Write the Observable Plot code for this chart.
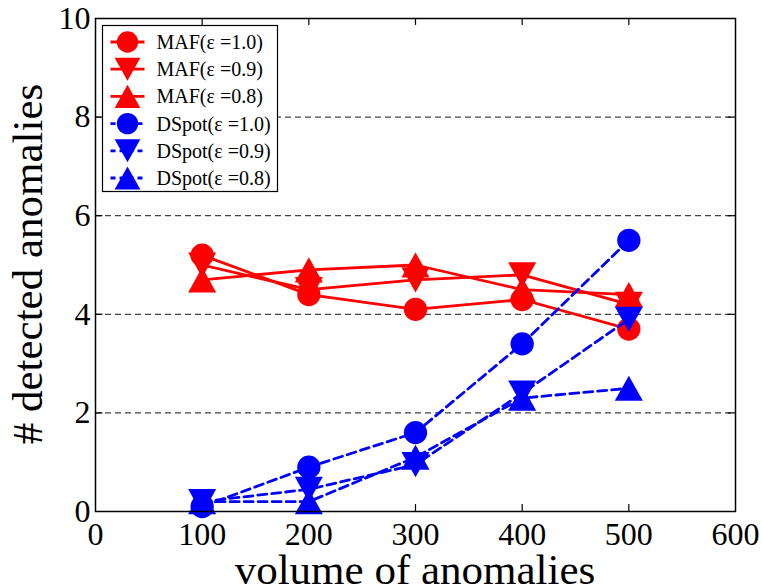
<!DOCTYPE html>
<html>
<head>
<meta charset="utf-8">
<script src="https://cdn.jsdelivr.net/npm/d3@7"></script>
<script src="https://cdn.jsdelivr.net/npm/@observablehq/plot@0.6"></script>
<style>
  html, body { margin: 0; padding: 0; background: #fff; }
  #chart { width: 762px; height: 586px; overflow: hidden; }
  #chart svg text { font-family: "Liberation Serif", "DejaVu Serif", serif; }
</style>
</head>
<body>
<div id="chart"></div>
<script>
// ---- data ----
const volumes = [100, 200, 300, 400, 500];
const mafE10 = [5.2, 4.4, 4.1, 4.3, 3.7];
const mafE09 = [5.0, 4.5, 4.7, 4.8, 4.2];
const mafE08 = [4.7, 4.9, 5.0, 4.5, 4.4];
const dspotE10 = [0.1, 0.9, 1.6, 3.4, 5.5];
const dspotE09 = [0.2, 0.45, 0.95, 2.4, 3.9];
const dspotE08 = [0.2, 0.2, 1.1, 2.3, 2.5];
const seriesNames = ["MAF(ε =1.0)", "MAF(ε =0.9)", "MAF(ε =0.8)", "DSpot(ε =1.0)", "DSpot(ε =0.9)", "DSpot(ε =0.8)"];
const xTicks = [0, 100, 200, 300, 400, 500, 600];
const yTicks = [0, 2, 4, 6, 8, 10];
const gridLevels = [2, 4, 6, 8];
const xLabel = "volume of anomalies";
const yLabel = "# detected anomalies";

const SERIF = "'Liberation Serif', 'DejaVu Serif', serif";

// ---- symbols ----
const upTri = {
  draw(ctx, size) {
    const r = Math.sqrt(size / Math.PI);
    const w = 1.17 * r, h = 1.05 * r;
    ctx.moveTo(0, -h); ctx.lineTo(w, h); ctx.lineTo(-w, h); ctx.closePath();
  }
};
const downTri = {
  draw(ctx, size) {
    const r = Math.sqrt(size / Math.PI);
    const w = 1.17 * r, h = 1.05 * r;
    ctx.moveTo(0, h); ctx.lineTo(w, -h); ctx.lineTo(-w, -h); ctx.closePath();
  }
};
const circleSym = {
  draw(ctx, size) {
    const r = Math.sqrt(size / Math.PI) * 0.97;
    ctx.moveTo(r, 0); ctx.arc(0, 0, r, 0, 2 * Math.PI);
  }
};

const seriesValues = [mafE10, mafE09, mafE08, dspotE10, dspotE09, dspotE08];
const seriesColor = ["#ff0000", "#ff0000", "#ff0000", "#0000ff", "#0000ff", "#0000ff"];
const seriesSymbol = [circleSym, downTri, upTri, circleSym, downTri, upTri];
const seriesDash = [null, null, null, "9,5", "9,5", "9,5"];

const R = 12;
const marks = [];
// grid
marks.push(Plot.ruleY(gridLevels, {stroke: "#444", strokeWidth: 1.2, strokeDasharray: "6,4"}));
// ticks (inward, all four sides)
marks.push(Plot.ruleX(xTicks.slice(1, -1), {y1: 0, y2: 0.14, stroke: "black", strokeWidth: 1.2}));
marks.push(Plot.ruleX(xTicks.slice(1, -1), {y1: 9.86, y2: 10, stroke: "black", strokeWidth: 1.2}));
marks.push(Plot.ruleY(yTicks.slice(1, -1), {x1: 0, x2: 7, stroke: "black", strokeWidth: 1.2}));
marks.push(Plot.ruleY(yTicks.slice(1, -1), {x1: 593, x2: 600, stroke: "black", strokeWidth: 1.2}));

seriesValues.forEach((vals, i) => {
  const data = volumes.map((v, j) => ({x: v, y: vals[j]}));
  marks.push(Plot.line(data, {
    x: "x", y: "y", stroke: seriesColor[i], strokeWidth: 2.8,
    strokeDasharray: seriesDash[i] || undefined, strokeLinejoin: "round"
  }));
  marks.push(Plot.dot(data, {
    x: "x", y: "y", symbol: seriesSymbol[i], r: R, fill: seriesColor[i], stroke: "none"
  }));
});

marks.push(Plot.frame({stroke: "black", strokeWidth: 1.5}));
marks.push(Plot.axisX(xTicks, {tickSize: 0, tickPadding: 11, fontSize: 32, label: null, fontFamily: SERIF}));
marks.push(Plot.axisY(yTicks, {tickSize: 0, tickPadding: 5, fontSize: 32, label: null, fontFamily: SERIF}));

const plot = Plot.plot({
  width: 762,
  height: 586,
  marginLeft: 95,
  marginRight: 27,
  marginTop: 18,
  marginBottom: 75,
  x: {domain: [0, 600]},
  y: {domain: [0, 10]},
  style: {fontFamily: SERIF, fontSize: "32px", color: "black", background: "white"},
  marks
});

const svg = d3.select(plot);
svg.style("overflow", "hidden").attr("font-family", SERIF);

// axis labels
svg.append("text")
  .attr("x", 415).attr("y", 584)
  .attr("text-anchor", "middle")
  .attr("font-size", 43)
  .attr("fill", "black")
  .text(xLabel);
svg.append("text")
  .attr("transform", "translate(42,264) rotate(-90)")
  .attr("text-anchor", "middle")
  .attr("font-size", 43)
  .attr("fill", "black")
  .text(yLabel);

// legend
const lg = svg.append("g").attr("transform", "translate(102.5,25.5)");
lg.append("rect").attr("width", 175).attr("height", 166)
  .attr("fill", "white").attr("stroke", "black").attr("stroke-width", 1.2);
const rowY0 = 16.5, rowH = 27.2;
seriesNames.forEach((name, i) => {
  const cy = rowY0 + i * rowH;
  const row = lg.append("g").attr("transform", `translate(0,${cy})`);
  row.append("line").attr("x1", 8).attr("x2", 42).attr("y1", 0).attr("y2", 0)
    .attr("stroke", seriesColor[i]).attr("stroke-width", 2.8)
    .attr("stroke-dasharray", seriesDash[i] ? "5,4" : null);
  row.append("path")
    .attr("transform", "translate(25,0)")
    .attr("d", d3.symbol().type(seriesSymbol[i]).size(Math.PI * 11 * 11)())
    .attr("fill", seriesColor[i]);
  row.append("text").attr("x", 54).attr("y", 0).attr("dy", "0.35em")
    .attr("text-anchor", "start")
    .attr("font-size", 20).attr("fill", "black").text(name);
});

svg.selectAll("text").style("font-family", SERIF);

document.getElementById("chart").appendChild(plot);
</script>
</body>
</html>
